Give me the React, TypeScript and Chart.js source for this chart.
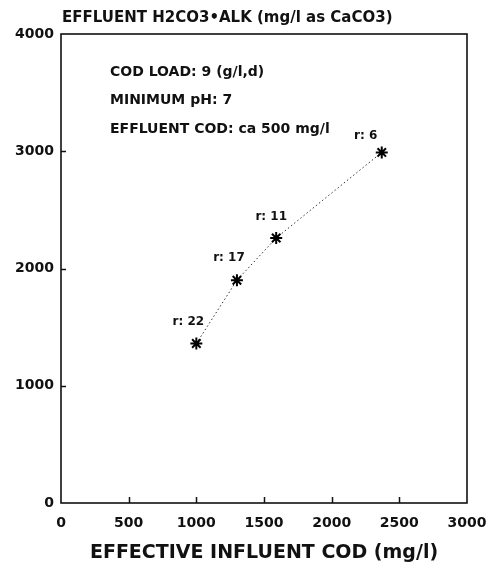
import React, { useEffect, useRef } from "react";
import { Chart, registerables } from "chart.js";

Chart.register(...registerables);

const influentCOD = [1000, 1300, 1590, 2370];
const effluentAlk = [1360, 1900, 2260, 2990];
const pointLabels = ["r: 22", "r: 17", "r: 11", "r: 6"];
const xTicks = [0, 500, 1000, 1500, 2000, 2500, 3000];
const yTicks = [0, 1000, 2000, 3000, 4000];
const chartTitle = "EFFLUENT H2CO3•ALK (mg/l as CaCO3)";
const xTitle = "EFFECTIVE INFLUENT COD (mg/l)";
const notes = ["COD LOAD: 9 (g/l,d)", "MINIMUM pH: 7", "EFFLUENT COD: ca 500 mg/l"];

const FONT = '"DejaVu Sans", sans-serif';
const INK = "#111";
const labelOffsets: [number, number][] = [
  [-8, -22],
  [-8, -22],
  [-5, -21],
  [-16, -17],
];

const decorPlugin = {
  id: "decor",
  afterDraw(chart: any) {
    const { ctx, chartArea: a, scales } = chart;
    const x = scales.x;
    const y = scales.y;
    ctx.save();
    ctx.strokeStyle = INK;
    ctx.lineWidth = 1.6;
    ctx.strokeRect(a.left, a.top, a.right - a.left, a.bottom - a.top);

    ctx.lineWidth = 1.5;
    ctx.beginPath();
    x.ticks.forEach((t: any) => {
      const px = Math.round(x.getPixelForValue(t.value)) + 0.5;
      if (px > a.left + 2 && px < a.right - 2) {
        ctx.moveTo(px, a.bottom);
        ctx.lineTo(px, a.bottom - 6);
      }
    });
    y.ticks.forEach((t: any) => {
      const py = Math.round(y.getPixelForValue(t.value)) + 0.5;
      if (py > a.top + 2 && py < a.bottom - 2) {
        ctx.moveTo(a.left, py);
        ctx.lineTo(a.left + 5, py);
      }
    });
    ctx.stroke();

    ctx.fillStyle = INK;
    ctx.textAlign = "left";
    ctx.textBaseline = "middle";
    ctx.font = `bold 15px ${FONT}`;
    ctx.fillText(chartTitle, a.left + 1, 18);

    ctx.font = `bold 14px ${FONT}`;
    notes.forEach((n, i) => {
      ctx.fillText(n, a.left + 49, a.top + 38 + i * 28.5);
    });

    const meta = chart.getDatasetMeta(0);
    ctx.font = `bold 12px ${FONT}`;
    ctx.textAlign = "center";
    meta.data.forEach((p: any, i: number) => {
      const off = labelOffsets[i] || [-8, -20];
      ctx.fillText(pointLabels[i], p.x + off[0], p.y + off[1]);
    });
    ctx.restore();
  },
};

export default function App() {
  const ref = useRef<HTMLCanvasElement>(null);

  useEffect(() => {
    if (!ref.current) return;
    const chart = new Chart(ref.current, {
      type: "scatter",
      data: {
        datasets: [
          {
            data: influentCOD.map((v, i) => ({ x: v, y: effluentAlk[i] })),
            showLine: true,
            borderColor: "#333",
            borderWidth: 1,
            borderDash: [1.5, 2.5],
            pointStyle: "star",
            pointRadius: 6,
            pointBorderWidth: 2,
            pointBorderColor: "#000",
            pointBackgroundColor: "#000",
          },
        ],
      },
      options: {
        animation: false,
        responsive: false,
        layout: { padding: { left: 0, top: 34, right: 43, bottom: 0 } },
        plugins: {
          legend: { display: false },
          tooltip: { enabled: false },
          title: { display: false },
        },
        scales: {
          x: {
            type: "linear",
            min: 0,
            max: 3000,
            afterBuildTicks: (s: any) => {
              s.ticks = xTicks.map((v) => ({ value: v }));
            },
            afterFit: (s: any) => {
              s.height = 62;
            },
            grid: { display: false, drawTicks: false },
            border: { display: false },
            ticks: {
              color: INK,
              padding: 12,
              maxRotation: 0,
              autoSkip: false,
              font: { family: FONT, size: 14, weight: "bold" },
              callback: (v: any) => String(v),
            },
            title: {
              display: true,
              text: xTitle,
              color: INK,
              font: { family: FONT, size: 19, weight: "bold" },
              padding: { top: 0, bottom: 1 },
            },
          },
          y: {
            type: "linear",
            min: 0,
            max: 4000,
            afterBuildTicks: (s: any) => {
              s.ticks = yTicks.map((v) => ({ value: v }));
            },
            afterFit: (s: any) => {
              s.width = 61;
            },
            grid: { display: false, drawTicks: false },
            border: { display: false },
            ticks: {
              color: INK,
              padding: 7,
              autoSkip: false,
              font: { family: FONT, size: 14, weight: "bold" },
              callback: (v: any) => String(v),
            },
          },
        },
      },
      plugins: [decorPlugin],
    });
    return () => chart.destroy();
  }, []);

  return (
    <div
      style={{
        position: "absolute",
        left: 0,
        top: 0,
        width: 487,
        height: 565,
        overflow: "hidden",
        background: "#fff",
      }}
    >
      <canvas
        ref={ref}
        width={510}
        height={565}
        style={{ display: "block", width: 510, height: 565 }}
      />
    </div>
  );
}
